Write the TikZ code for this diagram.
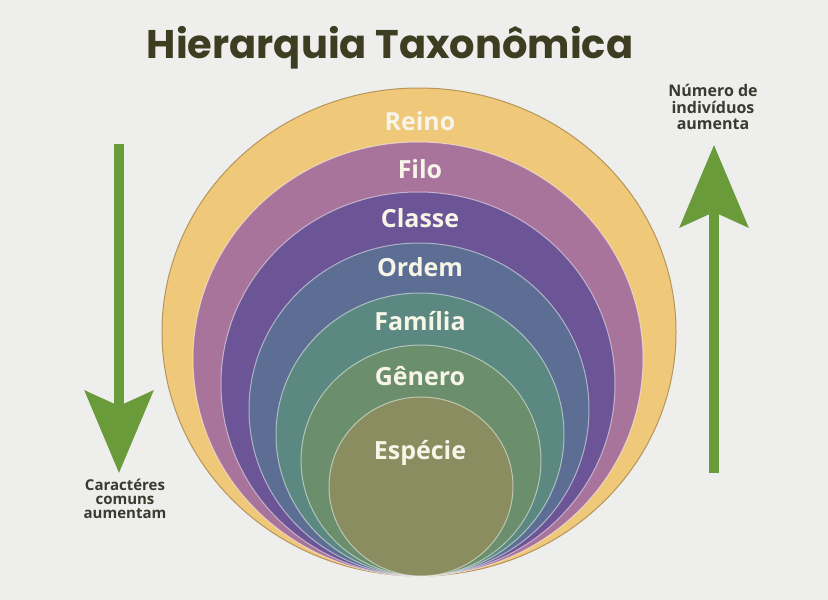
\documentclass[tikz,border=0pt]{standalone}
\usepackage{fontspec}
\newfontfamily\titlefont{Poppins}
\newfontfamily\labelfont{Open Sans}
\usetikzlibrary{shapes.geometric,arrows.meta}

\definecolor{bg}{HTML}{EEEEEC}
\definecolor{titlecol}{HTML}{3D3D21}
\definecolor{textcol}{HTML}{3A3A30}
\definecolor{arrowgreen}{HTML}{6A9B3A}
\definecolor{reinocol}{HTML}{F0C87A}
\definecolor{filocol}{HTML}{A8749C}
\definecolor{classecol}{HTML}{6B5596}
\definecolor{ordemcol}{HTML}{5C6E94}
\definecolor{familiacol}{HTML}{5B8880}
\definecolor{generocol}{HTML}{6B8E6C}
\definecolor{especiecol}{HTML}{8A8D60}
\definecolor{labelcol}{HTML}{F7F4E8}

\begin{document}
\begin{tikzpicture}[x=1pt,y=-1pt]
\tikzstyle{layer}=[ellipse,inner sep=0pt,draw=white,draw opacity=0.5,line width=1pt]
\tikzstyle{label}=[anchor=base,text=labelcol,font=\labelfont\bfseries\fontsize{25}{27}\selectfont]
\tikzstyle{sidetext}=[inner sep=0pt,align=center,text=textcol]
\tikzstyle{bigarrow}=[arrowgreen,line width=10pt,-{Stealth[length=82pt,width=68pt,inset=15pt]}]

\fill [bg] (0,0) rectangle (828,600);
\useasboundingbox (0,0) rectangle (828,600);

\node [anchor=base,text=titlecol,font=\titlefont\bfseries\fontsize{40}{44}\selectfont] at (390,58) (title) {Hierarquia Taxonômica};

\node [layer,fill=reinocol,draw=reinocol!75!black,draw opacity=1,minimum width=514pt,minimum height=488pt] at (419,332) (reino) {};
\node [layer,fill=filocol,minimum width=450pt,minimum height=434pt] at (418,359) (filo) {};
\node [layer,fill=classecol,minimum width=394pt,minimum height=384pt] at (418,384) (classe) {};
\node [layer,fill=ordemcol,minimum width=340pt,minimum height=333pt] at (419,409.5) (ordem) {};
\node [layer,fill=familiacol,minimum width=288pt,minimum height=283pt] at (420,434.5) (familia) {};
\node [layer,fill=generocol,minimum width=240pt,minimum height=231pt] at (421,460.5) (genero) {};
\node [layer,fill=especiecol,minimum width=184pt,minimum height=179pt] at (421,486.5) (especie) {};

\node [label] at (420,130) (reinoLabel) {Reino};
\node [label] at (420,178) (filoLabel) {Filo};
\node [label] at (420,227) (classeLabel) {Classe};
\node [label] at (420,276) (ordemLabel) {Ordem};
\node [label] at (420,330) (familiaLabel) {Família};
\node [label] at (420,385) (generoLabel) {Gênero};
\node [label] at (420,459) (especieLabel) {Espécie};

% setas laterais
\node [sidetext,anchor=north,font=\labelfont\bfseries\fontsize{15}{14}\selectfont] at (125,479) (comuns) {Caractéres\\comuns\\aumentam};
\coordinate (downTop) at (119,144);
\draw [bigarrow,shorten >=6pt] (downTop) -- (downTop |- comuns.north);

\node [sidetext,anchor=south,font=\labelfont\bfseries\fontsize{16}{16.5}\selectfont] at (713,130) (numero) {Número de\\indivíduos\\aumenta};
\coordinate (upBottom) at (714,473);
\draw [bigarrow,shorten >=15pt] (upBottom) -- (upBottom |- numero.south);
\end{tikzpicture}
\end{document}
